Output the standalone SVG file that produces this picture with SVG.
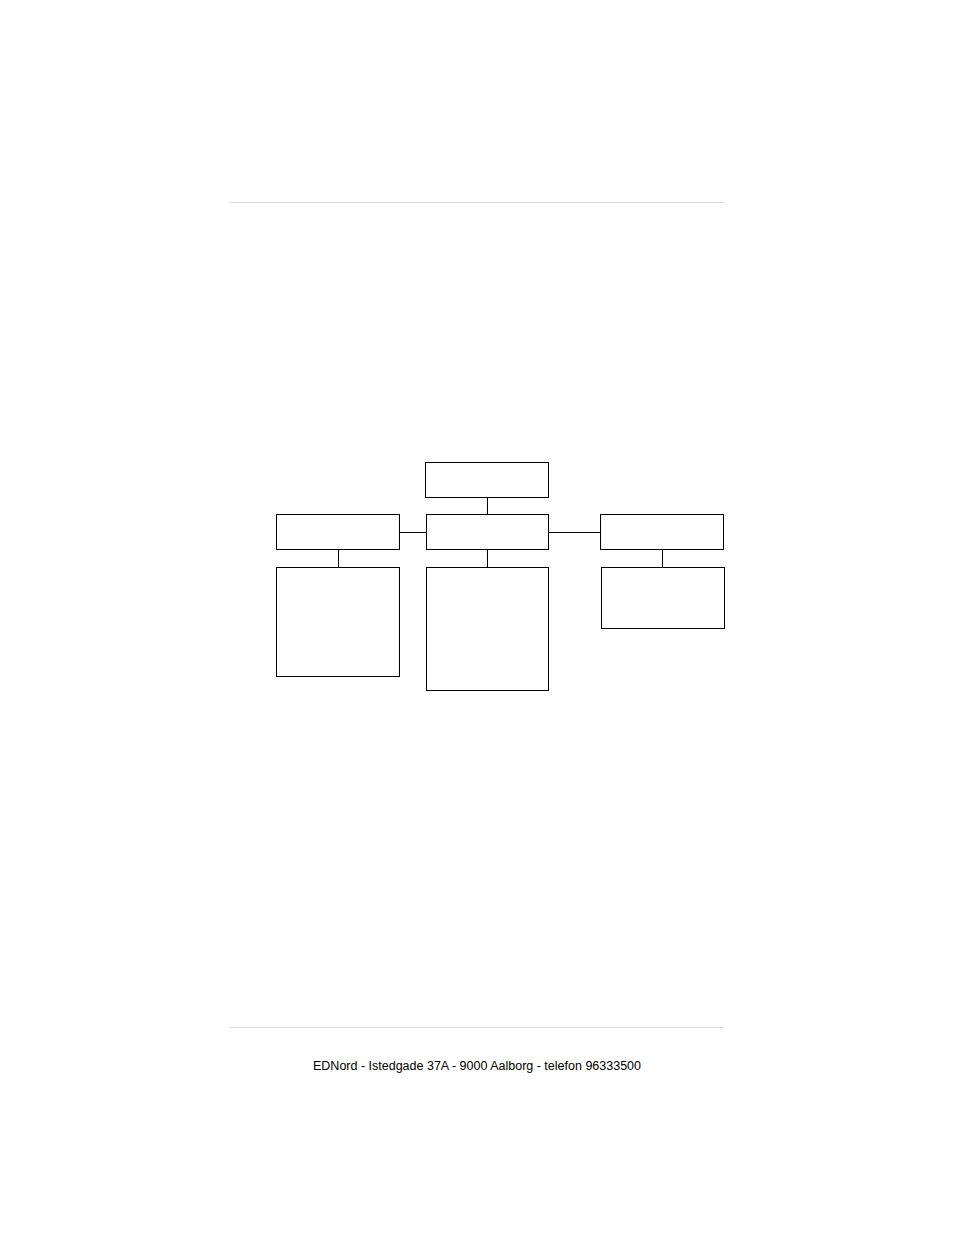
<svg xmlns="http://www.w3.org/2000/svg" width="954" height="1235" viewBox="0 0 954 1235">
<style>
.box{fill:#fff;stroke:#000;stroke-width:1}
.conn line{stroke:#000;stroke-width:1}
.rule{stroke:#dcdcdc;stroke-width:1}
.foot{font-family:"Liberation Sans",Arial,sans-serif;font-size:12.5px;fill:#000}
</style>
<rect width="954" height="1235" fill="#fff"/>
<line class="rule" x1="229.5" y1="202.5" x2="723.5" y2="202.5"/>
<line class="rule" x1="229.5" y1="1027.5" x2="723.5" y2="1027.5"/>
<g id="connectors" class="conn">
<line x1="487.5" y1="497.5" x2="487.5" y2="514.5"/>
<line x1="399.5" y1="532.5" x2="426.5" y2="532.5"/>
<line x1="548.5" y1="532.5" x2="600.5" y2="532.5"/>
<line x1="338.5" y1="549.5" x2="338.5" y2="567.5"/>
<line x1="487.5" y1="549.5" x2="487.5" y2="567.5"/>
<line x1="662.5" y1="549.5" x2="662.5" y2="567.5"/>
</g>
<g id="top"><rect class="box" x="425.5" y="462.5" width="123" height="35"/></g>
<g id="mid-left"><rect class="box" x="276.5" y="514.5" width="123" height="35"/></g>
<g id="mid-center"><rect class="box" x="426.5" y="514.5" width="122" height="35"/></g>
<g id="mid-right"><rect class="box" x="600.5" y="514.5" width="123" height="35"/></g>
<g id="bot-left"><rect class="box" x="276.5" y="567.5" width="123" height="109"/></g>
<g id="bot-center"><rect class="box" x="426.5" y="567.5" width="122" height="123"/></g>
<g id="bot-right"><rect class="box" x="601.5" y="567.5" width="123" height="61"/></g>
<text class="foot" x="477" y="1070" text-anchor="middle">EDNord - Istedgade 37A - 9000 Aalborg - telefon 96333500</text>
</svg>
